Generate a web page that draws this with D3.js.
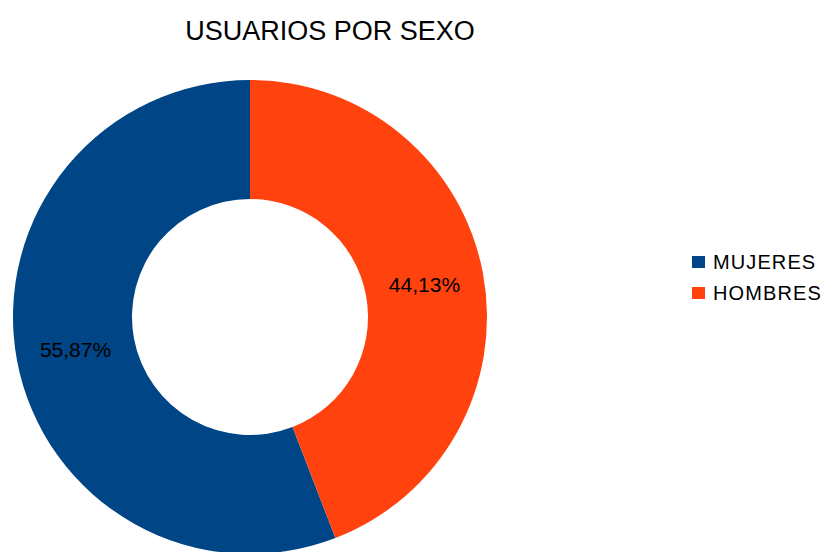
<!DOCTYPE html>
<html>
<head>
<meta charset="utf-8">
<script src="https://cdn.jsdelivr.net/npm/d3@7"></script>
<style>
  body { margin: 0; background: #fff; }
  text { font-family: "Liberation Sans", Arial, sans-serif; }
</style>
</head>
<body>
<div id="chart"></div>
<script>
const title = 'USUARIOS POR SEXO';
const categories = ['MUJERES', 'HOMBRES'];
const values = [55.87, 44.13];
const labels = ['55,87%', '44,13%'];
const colors = ['#004586', '#ff420e'];

const width = 826;
const height = 552;
const cx = 250, cy = 317;
const outerR = 237, innerR = 118;

const svg = d3.select('#chart').append('svg')
  .attr('width', width)
  .attr('height', height);

svg.append('text')
  .attr('x', 330)
  .attr('y', 40)
  .attr('text-anchor', 'middle')
  .attr('font-size', 27)
  .attr('fill', '#000')
  .text(title);

// HOMBRES starts at 12 o'clock going clockwise, MUJERES follows
const pie = d3.pie()
  .value(i => values[i])
  .sort((a, b) => b - a);

const arc = d3.arc()
  .innerRadius(innerR)
  .outerRadius(outerR);

const arcs = pie(d3.range(categories.length));

const g = svg.append('g').attr('transform', `translate(${cx},${cy})`);

g.selectAll('path').data(arcs)
  .enter().append('path')
  .attr('d', arc)
  .attr('fill', d => colors[d.data]);

g.selectAll('text.lbl').data(arcs)
  .enter().append('text')
  .attr('class', 'lbl')
  .attr('x', d => arc.centroid(d)[0])
  .attr('y', d => arc.centroid(d)[1])
  .attr('dy', '0.36em')
  .attr('text-anchor', 'middle')
  .attr('font-size', 21)
  .attr('fill', '#000')
  .text(d => labels[d.data]);

const legend = svg.append('g').attr('transform', 'translate(692,256)');
const item = legend.selectAll('g').data(categories)
  .enter().append('g')
  .attr('transform', (d, i) => `translate(0,${i * 31})`);

item.append('rect')
  .attr('width', 13)
  .attr('height', 12)
  .attr('fill', (d, i) => colors[i]);

item.append('text')
  .attr('x', 21)
  .attr('y', 12.5)
  .attr('font-size', 20)
  .attr('letter-spacing', 1.1)
  .attr('fill', '#000')
  .text(d => d);
</script>
</body>
</html>
